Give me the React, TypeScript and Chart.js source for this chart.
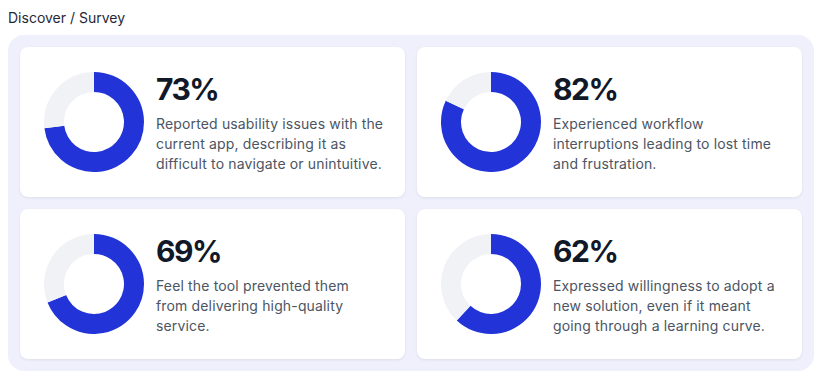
import React, { useEffect, useRef } from "react";
import { Chart, registerables } from "chart.js";

Chart.register(...registerables);

const pageTitle = "Discover / Survey";
const percentages = [73, 82, 69, 62];
const descriptions = [
  ["Reported usability issues with the", "current app, describing it as", "difficult to navigate or unintuitive."],
  ["Experienced workflow", "interruptions leading to lost time", "and frustration."],
  ["Feel the tool prevented them", "from delivering high-quality", "service."],
  ["Expressed willingness to adopt a", "new solution, even if it meant", "going through a learning curve."],
];
const segmentLabels = ["Yes", "Other"];

const BLUE = "#2234d8";
const GREY = "#f1f2f6";
const FONT = "Inter, 'Noto Sans', sans-serif";

function Donut({ value }: { value: number }) {
  const ref = useRef<HTMLCanvasElement | null>(null);
  useEffect(() => {
    if (!ref.current) return;
    const chart = new Chart(ref.current, {
      type: "doughnut",
      data: {
        labels: segmentLabels,
        datasets: [
          {
            data: [value, 100 - value],
            backgroundColor: [BLUE, GREY],
            borderWidth: 0,
          },
        ],
      },
      options: {
        responsive: false,
        animation: false,
        cutout: "60%",
        layout: { padding: 0 },
        plugins: { legend: { display: false }, tooltip: { enabled: false } },
      },
    });
    return () => chart.destroy();
  }, [value]);
  return <canvas ref={ref} width={100} height={100} style={{ display: "block", width: 100, height: 100 }} />;
}

function Card({ value, lines }: { value: number; lines: string[] }) {
  return (
    <div
      style={{
        background: "#ffffff",
        borderRadius: 8,
        height: 150,
        minWidth: 0,
        overflow: "hidden",
        boxSizing: "border-box",
        padding: "0 24px",
        display: "flex",
        alignItems: "center",
        boxShadow: "0 1px 3px rgba(17,24,39,0.08)",
      }}
    >
      <div style={{ width: 100, height: 100, flex: "0 0 100px" }}>
        <Donut value={value} />
      </div>
      <div style={{ marginLeft: 12, paddingTop: 1, minWidth: 0 }}>
        <div style={{ fontSize: 30, lineHeight: "36px", fontWeight: 700, color: "#111827", letterSpacing: "-1.5px" }}>{value}%</div>
        <div style={{ marginTop: 7, fontSize: 14, lineHeight: "20px", color: "#4b5563", letterSpacing: "0.15px" }}>
          {lines.map((l, i) => (
            <div key={i} style={{ whiteSpace: "nowrap" }}>{l}</div>
          ))}
        </div>
      </div>
    </div>
  );
}

export default function App() {
  return (
    <div style={{ fontFamily: FONT }}>
      <div style={{ fontSize: 14, lineHeight: "20px", color: "#1f2937", marginBottom: 7 }}>{pageTitle}</div>
      <div
        style={{
          background: "#eff0fc",
          borderRadius: 16,
          padding: 12,
          display: "grid",
          gridTemplateColumns: "minmax(0, 1fr) minmax(0, 1fr)",
          gap: 12,
        }}
      >
        {percentages.map((p, i) => (
          <Card key={i} value={p} lines={descriptions[i]} />
        ))}
      </div>
    </div>
  );
}
